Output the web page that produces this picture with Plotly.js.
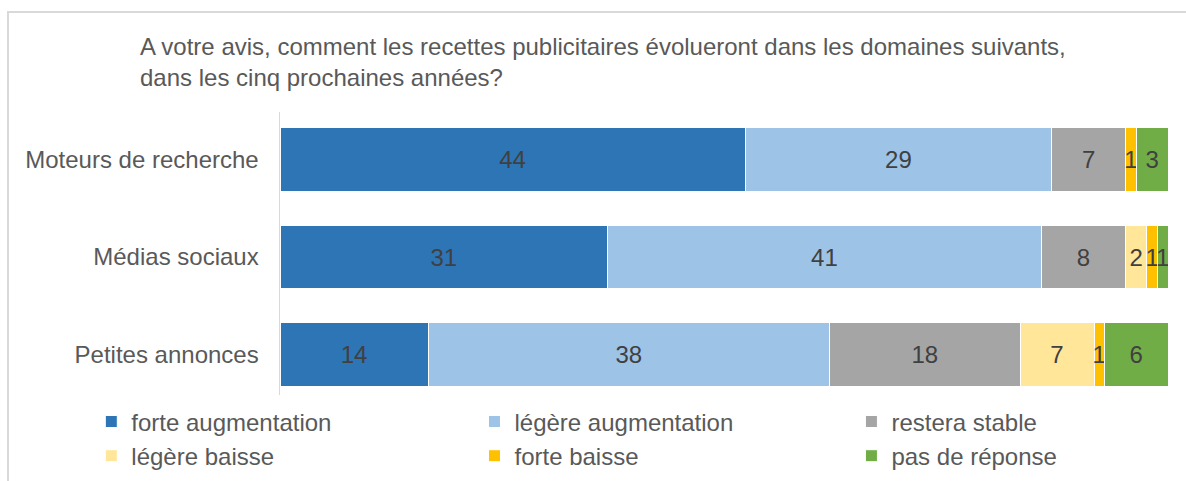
<!DOCTYPE html>
<html>
<head>
<meta charset="utf-8">
<script src="https://cdn.plot.ly/plotly-3.0.1.min.js"></script>
<style>
  html, body { margin: 0; padding: 0; background: #ffffff; overflow: hidden; }
  #chart { width: 1186px; height: 481px; }
  #frame { position: absolute; left: 7px; top: 11px; width: 1400px; height: 700px;
           border-left: 2px solid #d9d9d9; border-top: 2px solid #d9d9d9; pointer-events: none; }
</style>
</head>
<body>
<div id="chart"></div>
<div id="frame"></div>
<script>
const categories = ["Moteurs de recherche", "Médias sociaux", "Petites annonces"];
const seriesNames = ["forte augmentation", "légère augmentation", "restera stable",
                     "légère baisse", "forte baisse", "pas de réponse"];
const forteAugmentation  = [44, 31, 14];
const legereAugmentation = [29, 41, 38];
const resteraStable      = [7, 8, 18];
const legereBaisse       = [0, 2, 7];
const forteBaisse        = [1, 1, 1];
const pasDeReponse       = [3, 1, 6];
const seriesValues = [forteAugmentation, legereAugmentation, resteraStable,
                      legereBaisse, forteBaisse, pasDeReponse];
const seriesColors = ["#2E75B6", "#9DC3E6", "#A5A5A5", "#FFE699", "#FFC000", "#70AD47"];
const legendIds = ["legend", "legend2", "legend3", "legend", "legend2", "legend3"];
const titleText = "A votre avis, comment les recettes publicitaires évolueront dans les domaines suivants,<br>dans les cinq prochaines années?";

const FONT = "Liberation Sans, Arial, sans-serif";

const data = seriesNames.map((name, i) => ({
  type: "bar",
  orientation: "h",
  name: name,
  y: categories,
  x: seriesValues[i],
  text: seriesValues[i].map(v => v > 0 ? String(v) : ""),
  textposition: "inside",
  insidetextanchor: "middle",
  constraintext: "none",
  textangle: 0,
  textfont: { family: FONT, size: 24, color: "#404040" },
  marker: { color: seriesColors[i], line: { color: "#ffffff", width: 1 } },
  legend: legendIds[i],
  legendgroup: "g" + i,
  hoverinfo: "skip"
}));

const legendBase = {
  orientation: "v",
  traceorder: "normal",
  xanchor: "left",
  yanchor: "top",
  y: -0.0156,
  tracegroupgap: 6,
  font: { family: FONT, size: 24, color: "#595959" },
  bgcolor: "rgba(0,0,0,0)",
  borderwidth: 0
};

const layout = {
  width: 1186,
  height: 481,
  margin: { l: 280, r: 18, t: 112, b: 86, pad: 0, autoexpand: false },
  paper_bgcolor: "#ffffff",
  plot_bgcolor: "#ffffff",
  barmode: "stack",
  bargap: 0.35,
  font: { family: FONT, color: "#595959" },
  title: {
    text: titleText,
    font: { family: FONT, size: 24, color: "#595959" },
    x: 140 / 1186,
    xref: "container",
    xanchor: "left",
    y: 1 - 55 / 481,
    yref: "container",
    yanchor: "top"
  },
  xaxis: {
    range: [0, 84],
    visible: false,
    showgrid: false,
    zeroline: false,
    fixedrange: true
  },
  yaxis: {
    type: "category",
    categoryorder: "array",
    categoryarray: categories,
    range: [2.415, -0.487],
    showline: true,
    linecolor: "#d9d9d9",
    linewidth: 1.5,
    ticks: "",
    showgrid: false,
    zeroline: false,
    ticklabelstandoff: 15,
    tickfont: { family: FONT, size: 24, color: "#595959" },
    fixedrange: true
  },
  legend:  Object.assign({}, legendBase, { x: -0.2125 }),
  legend2: Object.assign({}, legendBase, { x: 0.219 }),
  legend3: Object.assign({}, legendBase, { x: 0.6435 }),
  showlegend: true
};

Plotly.newPlot("chart", data, layout, { displayModeBar: false, staticPlot: true });
</script>
</body>
</html>
